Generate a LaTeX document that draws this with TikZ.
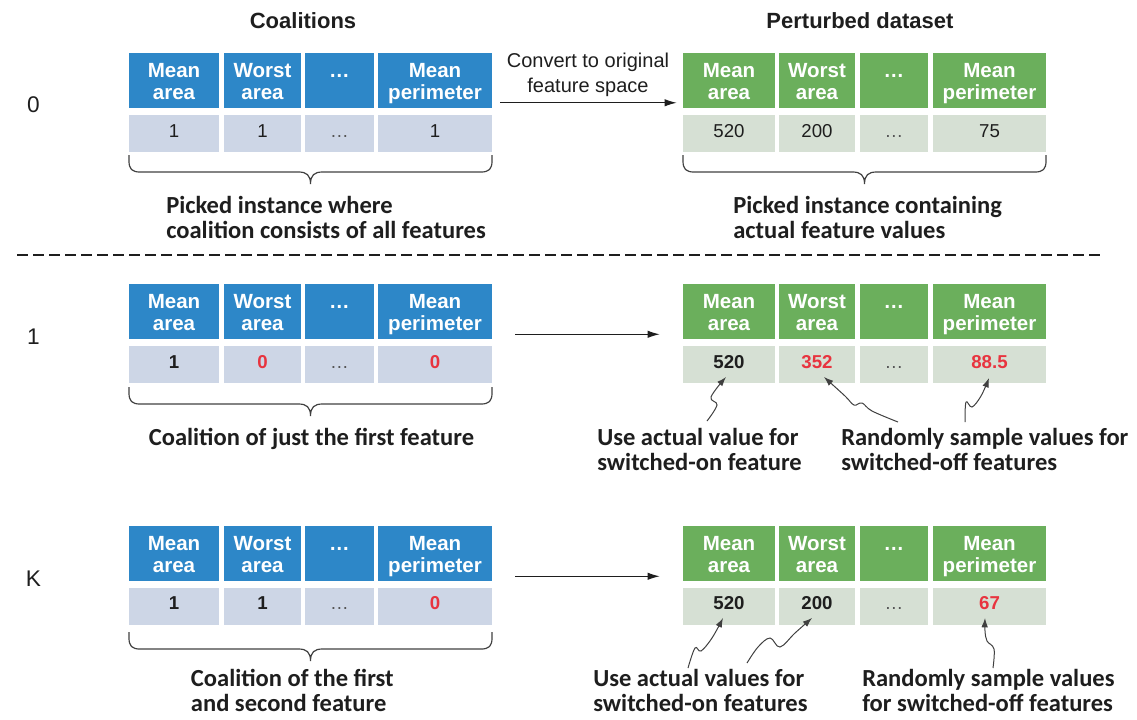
\documentclass[tikz,border=0pt]{standalone}
\usepackage{fontspec}
\setmainfont{Liberation Sans}
\newfontfamily\annfont{Carlito}
\usetikzlibrary{arrows.meta}

% one drawing unit = one pixel of a 1137 x 719 canvas
\newdimen\pxu
\pxu=0.75pt

\definecolor{hdrblue}{HTML}{2D87C8}
\definecolor{valblue}{HTML}{CDD6E6}
\definecolor{hdrgreen}{HTML}{6BAF5C}
\definecolor{valgreen}{HTML}{D6E0D4}
\definecolor{offred}{HTML}{E8343F}
\definecolor{ink}{HTML}{1E1E1E}
\definecolor{dotgrey}{HTML}{555555}

\newcommand\hcell[2]{\begin{tabular}[b]{@{}c@{}}#1\\#2\end{tabular}}
\newcommand\twolines[2]{\begin{tabular}[t]{@{}l@{}}#1\\#2\end{tabular}}
\newcommand\off[1]{\textcolor{offred}{#1}}

\tikzset{
  cell/.style={inner sep=0pt, anchor=center},
  hdrcell/.style={cell, minimum height=55\pxu, text=white,
    text height=31.1pt, text depth=1.9pt,
    font=\fontsize{15.4}{16.5}\selectfont\bfseries},
  valcell/.style={cell, minimum height=37\pxu, text=ink,
    text height=8pt, text depth=2.4pt,
    font=\fontsize{14}{16}\selectfont},
  boldval/.style={valcell, font=\fontsize{14}{16}\selectfont\bfseries},
  dotval/.style={valcell, text=dotgrey},
  title/.style={inner sep=0pt, text=ink, anchor=base,
    font=\fontsize{16.5}{20}\selectfont\bfseries},
  rowlabel/.style={inner sep=0pt, text=ink, anchor=base,
    font=\fontsize{17}{20}\selectfont},
  note/.style={inner sep=0pt, text=ink, anchor=base west,
    font=\annfont\fontsize{18.4}{18.75}\selectfont\bfseries},
  arrowlabel/.style={inner sep=0pt, text=ink, anchor=base,
    font=\fontsize{15}{18.75}\selectfont},
  mainarrow/.style={draw=ink, line width=0.8pt,
    -{Latex[length=9pt,width=5.5pt]}},
  callout/.style={draw=ink!85, line width=0.75pt,
    -{Latex[length=7pt,width=5pt]}},
  bracepath/.style={draw=ink!85, line width=0.9pt},
  sepline/.style={draw=ink, line width=1.5pt,
    dash pattern=on 8.25pt off 3.75pt}
}

% header row of a coalition table (blue) / perturbed table (green)
\newcommand\leftheads[2]{%
  \node[hdrcell, fill=hdrblue, minimum width=90\pxu]  (#1h1) at (174,#2)   {\hcell{Mean}{area}};
  \node[hdrcell, fill=hdrblue, minimum width=77\pxu]  (#1h2) at (262.5,#2) {\hcell{Worst}{area}};
  \node[hdrcell, fill=hdrblue, minimum width=69\pxu]  (#1h3) at (339.5,#2) {\hcell{\ldots}{\phantom{a}}};
  \node[hdrcell, fill=hdrblue, minimum width=114\pxu] (#1h4) at (435,#2)   {\hcell{Mean}{perimeter}};}
\newcommand\rightheads[2]{%
  \node[hdrcell, fill=hdrgreen, minimum width=92\pxu]  (#1h1) at (729,#2)   {\hcell{Mean}{area}};
  \node[hdrcell, fill=hdrgreen, minimum width=76\pxu]  (#1h2) at (817,#2)   {\hcell{Worst}{area}};
  \node[hdrcell, fill=hdrgreen, minimum width=68\pxu]  (#1h3) at (894,#2)   {\hcell{\ldots}{\phantom{a}}};
  \node[hdrcell, fill=hdrgreen, minimum width=113\pxu] (#1h4) at (989.5,#2) {\hcell{Mean}{perimeter}};}

% value row: prefix, y, style, first, second, last value
\newcommand\leftvals[6]{%
  \node[#3, fill=valblue, minimum width=90\pxu]  (#1v1) at (174,#2)   {#4};
  \node[#3, fill=valblue, minimum width=77\pxu]  (#1v2) at (262.5,#2) {#5};
  \node[dotval, fill=valblue, minimum width=69\pxu] (#1v3) at (339.5,#2) {\ldots};
  \node[#3, fill=valblue, minimum width=114\pxu] (#1v4) at (435,#2)   {#6};}
\newcommand\rightvals[6]{%
  \node[#3, fill=valgreen, minimum width=92\pxu]  (#1v1) at (729,#2)   {#4};
  \node[#3, fill=valgreen, minimum width=76\pxu]  (#1v2) at (817,#2)   {#5};
  \node[dotval, fill=valgreen, minimum width=68\pxu] (#1v3) at (894,#2) {\ldots};
  \node[#3, fill=valgreen, minimum width=113\pxu] (#1v4) at (989.5,#2) {#6};}

% downward curly brace from x=#1 to x=#2, hanging from y=#3
\newcommand\curlybrace[3]{%
  \draw[bracepath] (#1,#3) -- (#1,{#3+6})
    .. controls (#1,{#3+14}) and ({#1+3},{#3+17}) .. ({#1+11},{#3+17})
    -- ({(#1+#2)/2-12},{#3+17})
    .. controls ({(#1+#2)/2-4},{#3+17}) and ({(#1+#2)/2},{#3+20}) .. ({(#1+#2)/2},{#3+29})
    .. controls ({(#1+#2)/2},{#3+20}) and ({(#1+#2)/2+4},{#3+17}) .. ({(#1+#2)/2+12},{#3+17})
    -- ({#2-11},{#3+17})
    .. controls ({#2-3},{#3+17}) and (#2,{#3+14}) .. (#2,{#3+6}) -- (#2,#3);}

\begin{document}
\begin{tikzpicture}[x=0.75pt, y=-0.75pt]
\useasboundingbox (0,0) rectangle (1137,719);

% column titles
\node[title] (ttlL) at (303,28.5) {Coalitions};
\node[title] (ttlR) at (860,28.5) {Perturbed dataset};

% row labels
\node[rowlabel] (lab0) at (33.5,112) {0};
\node[rowlabel] (lab1) at (33.5,344) {1};
\node[rowlabel] (labK) at (33.5,586) {K};

% ---- coalition 0: all features on
\leftheads{L0}{80}
\leftvals{L0}{133.5}{valcell}{1}{1}{1}
\rightheads{R0}{80}
\rightvals{R0}{133.5}{valcell}{520}{200}{75}

\draw[mainarrow] ([shift={(8,-5)}]L0h4.south east) -- ([shift={(-6,-5)}]R0h1.south west);
\node[arrowlabel] (conv) at (588,67)
  {\begin{tabular}[t]{@{}c@{}}Convert to original\\feature space\end{tabular}};

\curlybrace{129}{492}{155}
\curlybrace{683}{1046}{155}
\node[note] (n0L) at (166,213.3) {\twolines{Picked instance where}{coalition consists of all features}};
\node[note] (n0R) at (733,213.3) {\twolines{Picked instance containing}{actual feature values}};

% separator
\draw[sepline] (17,255) -- (1100,255);

% ---- coalition 1: first feature only
\leftheads{L1}{311.5}
\leftvals{L1}{364.5}{boldval}{1}{\off{0}}{\off{0}}
\rightheads{R1}{311.5}
\rightvals{R1}{364.5}{boldval}{520}{\off{352}}{\off{88.5}}

\draw[mainarrow] ([shift={(23,-5)}]L1h4.south east) -- ([shift={(-23,-5)}]R1h1.south west);

\curlybrace{129}{492}{387}
\node[note, anchor=base] (n1L) at (311.5,445) {Coalition of just the first feature};
\node[note] (n1a) at (597,445) {\twolines{Use actual value for}{switched-on feature}};
\node[note] (n1b) at (841,445) {\twolines{Randomly sample values for}{switched-off features}};

\draw[callout] plot[smooth, tension=0.6] coordinates {(707,421) (717,405) (711,397) (726,377)};
\draw[callout] plot[smooth, tension=0.6] coordinates {(898,422) (872,411) (862,403) (854,405) (845,396) (824,377)};
\draw[callout] plot[smooth, tension=0.6] coordinates {(965,422) (966,402) (972,407) (981,396) (989,378)};

% ---- coalition K: first and second features
\leftheads{LK}{553.5}
\leftvals{LK}{606}{boldval}{1}{1}{\off{0}}
\rightheads{RK}{553.5}
\rightvals{RK}{606}{boldval}{520}{200}{\off{67}}

\draw[mainarrow] ([shift={(23,-5)}]LKh4.south east) -- ([shift={(-23,-5)}]RKh1.south west);

\curlybrace{129}{492}{632}
\node[note] (nKL) at (190.7,686.7) {\twolines{Coalition of the first}{and second feature}};
\node[note] (nKa) at (593,686.7) {\twolines{Use actual values for}{switched-on features}};
\node[note] (nKb) at (862,686.7) {\twolines{Randomly sample values}{for switched-off features}};

\draw[callout] plot[smooth, tension=0.6] coordinates {(688,668) (695,648) (701,651) (712,638) (723,618)};
\draw[callout] plot[smooth, tension=0.6] coordinates {(747,663) (758,647) (770,638) (780,647) (795,633) (812,618)};
\draw[callout] plot[smooth, tension=0.6] coordinates {(993,668) (994,649) (987,641) (985,631) (985,618)};

\end{tikzpicture}
\end{document}
